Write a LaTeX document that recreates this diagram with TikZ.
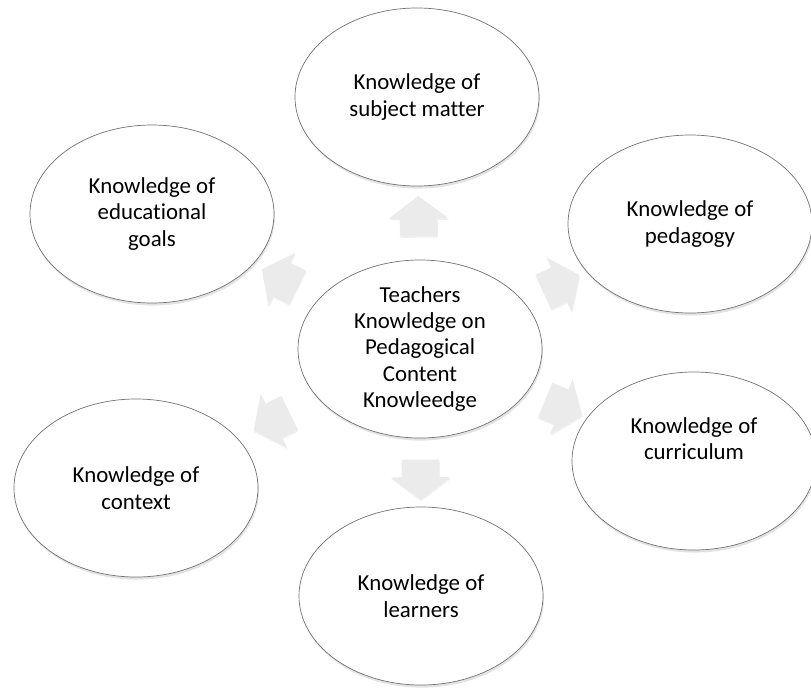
\documentclass[tikz,border=0pt]{standalone}
\usepackage{fontspec}
\setmainfont{Carlito}[Ligatures=NoCommon]
\usetikzlibrary{shapes.geometric,shapes.arrows,shadows}

\tikzset{
	know/.style={ellipse, draw=black!55, line width=0.6pt, fill=white, minimum width=7.32cm, minimum height=5.34cm, inner sep=0pt, align=center, font=\fontsize{19.5}{22.5}\selectfont, drop shadow={shadow xshift=0.8pt, shadow yshift=-2.2pt, opacity=0.22}},
	blockarrow/.style={single arrow, single arrow tip angle=106, single arrow head extend=0.33cm, minimum height=1.2cm, inner xsep=0pt, inner ysep=0.555cm, fill=black!8, draw=none, sloped, allow upside down, drop shadow={shadow xshift=0.5pt, shadow yshift=-1.5pt, opacity=0.12}}
}

\begin{document}
\begin{tikzpicture}[x=0.03cm, y=-0.03cm]
			%%%%% START %%%%%
			\useasboundingbox (0, 0) rectangle (811, 688);
			
			\node[know] (core) at (420, 349) {Teachers\\Knowledge on\\Pedagogical\\Content\\Knowleedge};
			
			\node[know] (top) at (417, 97) {Knowledge of\\subject matter};
			\node[know] (goal) at (152, 214) {Knowledge of\\educational\\goals};
			\node[know] (peda) at (690, 224) {Knowledge of\\pedagogy};
			\node[know] (curr) at (694, 461) {Knowledge of\\curriculum\\[0.8em]};
			\node[know] (cont) at (136, 488) {Knowledge of\\context};
			\node[know] (learn) at (421, 596) {Knowledge of\\learners};
			
			\foreach \k in {top, goal, peda, curr, cont, learn}
				\path (core) -- node[blockarrow] (arr-\k) {} (\k);
			
			%%%%% END %%%%%
		\end{tikzpicture}
\end{document}
